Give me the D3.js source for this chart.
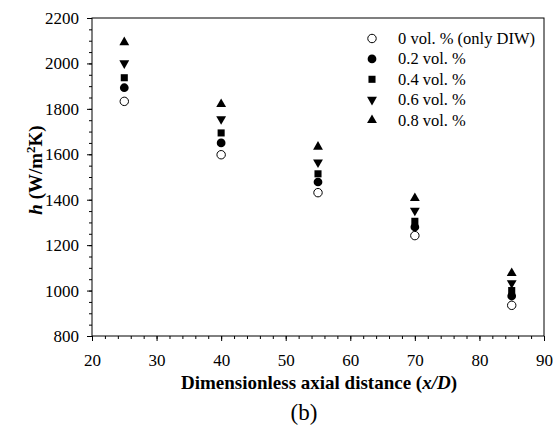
<!DOCTYPE html>
<html>
<head>
<meta charset="utf-8">
<script src="https://cdn.jsdelivr.net/npm/d3@7"></script>
<style>
  body { margin: 0; background: #fff; }
</style>
</head>
<body>
<div id="chart"></div>
<script>
// x/D positions
const xPositions = [25, 40, 55, 70, 85];
// h values (W/m2K) per concentration
const conc0 = [1833, 1598, 1431, 1242, 935];
const conc02 = [1893, 1650, 1478, 1280, 976];
const conc04 = [1937, 1694, 1514, 1305, 1000];
const conc06 = [2001, 1755, 1565, 1352, 1033];
const conc08 = [2093, 1821, 1633, 1407, 1077];
const seriesNames = ['0 vol. % (only DIW)', '0.2 vol. %', '0.4 vol. %', '0.6 vol. %', '0.8 vol. %'];
const xTicks = [20, 30, 40, 50, 60, 70, 80, 90];
const yTicks = [800, 1000, 1200, 1400, 1600, 1800, 2000, 2200];

const seriesVals = [conc0, conc02, conc04, conc06, conc08];
const markers = ['openCircle', 'circle', 'square', 'triDown', 'triUp'];
const FONT = 'Liberation Serif';

const width = 558, height = 430;
const margin = { left: 92, right: 14, top: 18, bottom: 94 };

const svg = d3.select('#chart').append('svg')
    .attr('width', width).attr('height', height)
    .style('font-family', FONT);

const x = d3.scaleLinear().domain([20, 90]).range([margin.left, width - margin.right]);
const y = d3.scaleLinear().domain([800, 2200]).range([height - margin.bottom, margin.top]);

// frame
svg.append('rect')
    .attr('x', x(20)).attr('y', y(2200))
    .attr('width', x(90) - x(20)).attr('height', y(800) - y(2200))
    .attr('fill', 'none').attr('stroke', '#000').attr('stroke-width', 1);

// minor ticks
svg.append('g')
    .attr('transform', `translate(0,${y(800)})`)
    .call(d3.axisBottom(x).tickValues(d3.range(20, 91, 2)).tickSize(3).tickFormat(''))
    .call(g => g.select('.domain').remove());
svg.append('g')
    .attr('transform', `translate(${x(20)},0)`)
    .call(d3.axisLeft(y).tickValues(d3.range(800, 2201, 50)).tickSize(3).tickFormat(''))
    .call(g => g.select('.domain').remove());

// major ticks
svg.append('g')
    .attr('transform', `translate(0,${y(800)})`)
    .call(d3.axisBottom(x).tickValues(xTicks).tickSize(5).tickPadding(13).tickFormat(d3.format('d')))
    .call(g => g.select('.domain').remove());
svg.append('g')
    .attr('transform', `translate(${x(20)},0)`)
    .call(d3.axisLeft(y).tickValues(yTicks).tickSize(5).tickPadding(8).tickFormat(d3.format('d')))
    .call(g => g.select('.domain').remove());

svg.selectAll('g').attr('font-family', FONT);
svg.selectAll('.tick line').attr('stroke', '#000');
svg.selectAll('.tick text')
    .attr('fill', '#000')
    .style('font-family', FONT)
    .style('font-size', '17px');

const sym = {
  openCircle: d3.symbol(d3.symbolCircle, 56),
  circle: d3.symbol(d3.symbolCircle, 60),
  square: d3.symbol(d3.symbolSquare, 50),
  triUp: d3.symbol(d3.symbolTriangle, 42),
  triDown: d3.symbol(d3.symbolTriangle, 42)
};

function drawMarker(g, type, cx, cy) {
  const p = g.append('path')
      .attr('d', sym[type]())
      .attr('transform', `translate(${cx},${cy})` + (type === 'triDown' ? ' rotate(180)' : ''));
  if (type === 'openCircle') p.attr('fill', '#fff').attr('stroke', '#000').attr('stroke-width', 1);
  else p.attr('fill', '#000');
}

// points
const pts = svg.append('g');
seriesVals.forEach((vals, i) => {
  vals.forEach((v, j) => drawMarker(pts, markers[i], x(xPositions[j]), y(v)));
});

// legend
const legend = svg.append('g');
seriesNames.forEach((name, i) => {
  const ly = 38.5 + i * 20.4;
  drawMarker(legend, markers[i], 372, ly);
  legend.append('text')
      .attr('x', 398).attr('y', ly + 5.5)
      .style('font-family', FONT)
      .style('font-size', '16.5px')
      .text(name);
});

// axis titles
const xt = svg.append('text')
    .attr('x', 319).attr('y', 389)
    .attr('text-anchor', 'middle')
    .style('font-family', FONT)
    .style('font-size', '19px').style('font-weight', 'bold');
xt.append('tspan').text('Dimensionless axial distance (');
xt.append('tspan').style('font-style', 'italic').text('x/D');
xt.append('tspan').text(')');

const yt = svg.append('text')
    .attr('transform', 'translate(42,170) rotate(-90)')
    .attr('text-anchor', 'middle')
    .style('font-family', FONT)
    .style('font-size', '19px').style('font-weight', 'bold');
yt.append('tspan').style('font-style', 'italic').text('h');
yt.append('tspan').text(' (W/m');
yt.append('tspan').attr('dy', -7).style('font-size', '13px').text('2');
yt.append('tspan').attr('dy', 7).text('K)');

svg.append('text')
    .attr('x', 304).attr('y', 420)
    .attr('text-anchor', 'middle')
    .style('font-family', FONT)
    .style('font-size', '23px')
    .text('(b)');
</script>
</body>
</html>
